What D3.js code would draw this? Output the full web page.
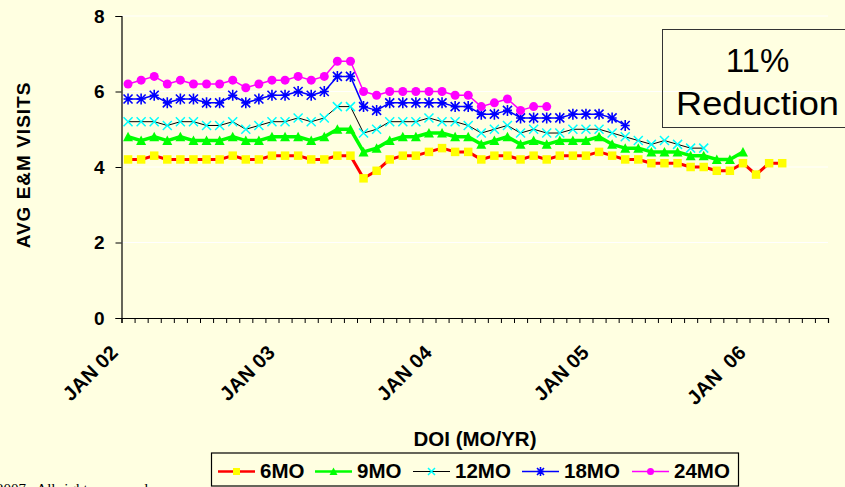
<!DOCTYPE html>
<html><head><meta charset="utf-8">
<script src="https://cdn.jsdelivr.net/npm/d3@7"></script>
<style>
html,body{margin:0;padding:0;background:#FFFFE1;overflow:hidden;}
svg{display:block;font-family:Arial,"Liberation Sans",sans-serif;}
</style></head>
<body><svg id="c" width="845" height="487"></svg>
<script>
const months = ["JAN","FEB","MAR","APR","MAY","JUN","JUL","AUG","SEP","OCT","NOV","DEC"];
const years = ["02","03","04","05","06"];
const categories = [];
years.forEach(y => months.forEach(m => categories.push(m + " " + y)));
categories.splice(54); // JAN 02 .. JUN 06

const tickLabelIdx = [0, 12, 24, 36, 48];
const tickLabels = ["JAN 02", "JAN 03", "JAN 04", "JAN 05", "JAN  06"];
const yTicks = [0, 2, 4, 6, 8];

const s6 = [4.2,4.2,4.3,4.2,4.2,4.2,4.2,4.2,4.3,4.2,4.2,4.3,4.3,4.3,4.2,4.2,4.3,4.3,
            3.7,3.9,4.2,4.3,4.3,4.4,4.5,4.4,4.4,4.2,4.3,4.3,4.2,4.3,4.2,4.3,4.3,4.3,
            4.4,4.3,4.2,4.2,4.1,4.1,4.1,4.0,4.0,3.9,3.9,4.1,3.8,4.1,4.1];
const s9 = [4.8,4.7,4.8,4.7,4.8,4.7,4.7,4.7,4.8,4.7,4.7,4.8,4.8,4.8,4.7,4.8,5.0,5.0,
            4.4,4.5,4.7,4.8,4.8,4.9,4.9,4.8,4.8,4.6,4.7,4.8,4.6,4.7,4.6,4.7,4.7,4.7,
            4.8,4.6,4.5,4.5,4.4,4.4,4.4,4.3,4.3,4.2,4.2,4.4];
const s12 = [5.2,5.2,5.2,5.1,5.2,5.2,5.1,5.1,5.2,5.0,5.1,5.2,5.2,5.3,5.2,5.3,5.6,5.6,
             4.9,5.0,5.2,5.2,5.2,5.3,5.2,5.2,5.1,4.9,5.0,5.1,4.9,5.0,4.9,4.9,5.0,5.0,
             5.0,4.9,4.8,4.7,4.6,4.7,4.6,4.5,4.5];
const s18 = [5.8,5.8,5.9,5.7,5.8,5.8,5.7,5.7,5.9,5.7,5.8,5.9,5.9,6.0,5.9,6.0,6.4,6.4,
             5.6,5.5,5.7,5.7,5.7,5.7,5.7,5.6,5.6,5.4,5.4,5.5,5.3,5.3,5.3,5.3,5.4,5.4,
             5.4,5.3,5.1];
const s24 = [6.2,6.3,6.4,6.2,6.3,6.2,6.2,6.2,6.3,6.1,6.2,6.3,6.3,6.4,6.3,6.4,6.8,6.8,
             6.0,5.9,6.0,6.0,6.0,6.0,6.0,5.9,5.9,5.6,5.7,5.8,5.5,5.6,5.6];

const seriesNames = ["6MO", "9MO", "12MO", "18MO", "24MO"];
const seriesValues = [s6, s9, s12, s18, s24];

const styles = {
  "6MO":  {line:"#FF0000", lw:3,   marker:"square",   mfill:"#FFFF00", mstroke:"#FFFF00"},
  "9MO":  {line:"#00FF00", lw:3.5, marker:"triangle", mfill:"#00FF00", mstroke:"#00FF00"},
  "12MO": {line:"#000000", lw:1,   marker:"x",        mfill:"none",    mstroke:"#00FFFF"},
  "18MO": {line:"#0000FF", lw:1.5, marker:"star",     mfill:"none",    mstroke:"#0000FF"},
  "24MO": {line:"#FF00FF", lw:1.5, marker:"circle",   mfill:"#FF00FF", mstroke:"#FF00FF"}
};

const svg = d3.select("#c");
const L = 121.5, R = 828, T = 16, B = 318;

const x = d3.scaleBand().domain(d3.range(categories.length)).range([L, R]).padding(0);
const xEdge = d3.scaleLinear().domain([0, categories.length]).range([L, R]);
const y = d3.scaleLinear().domain([0, 8]).range([B, T]);

// gridlines
svg.append("g").selectAll("line").data(yTicks.filter(d => d > 0)).join("line")
  .attr("x1", L).attr("x2", R).attr("y1", d => y(d)).attr("y2", d => y(d))
  .attr("stroke", "#FFFFFF").attr("stroke-width", 1.2);

// annotation box
svg.append("rect").attr("x", 662.5).attr("y", 29.5).attr("width", 190).attr("height", 98)
  .attr("fill", "none").attr("stroke", "#333").attr("stroke-width", 1);
svg.append("text").attr("x", 757.5).attr("y", 72).attr("text-anchor", "middle")
  .attr("font-size", 33).attr("fill", "#000").text("11%");
svg.append("text").attr("x", 757.5).attr("y", 115).attr("text-anchor", "middle")
  .attr("font-size", 33).attr("fill", "#000")
  .attr("textLength", 163).attr("lengthAdjust", "spacingAndGlyphs").text("Reduction");

// axes
const yAxis = svg.append("g").attr("transform", `translate(${L},0)`)
  .call(d3.axisLeft(y).tickValues(yTicks).tickSize(6).tickPadding(11).tickFormat(d3.format("d")));
yAxis.select(".domain").attr("stroke", "#000").attr("stroke-width", 1.2);
yAxis.selectAll("text").attr("font-size", 19).attr("font-weight", "bold").attr("font-family", "Arial,'Liberation Sans',sans-serif");

const xAxis = svg.append("g").attr("transform", `translate(0,${B})`)
  .call(d3.axisBottom(xEdge).tickValues(d3.range(categories.length + 1)).tickSize(5).tickFormat(""));
xAxis.select(".domain").attr("stroke", "#000").attr("stroke-width", 1.2);
xAxis.selectAll(".tick line").attr("stroke", "#000");

svg.append("g").selectAll("text").data(tickLabelIdx).join("text")
  .attr("transform", (d) => `translate(${x(d) + x.bandwidth()/2 - 9},${B + 36}) rotate(-45)`)
  .attr("text-anchor", "end").attr("font-size", 20).attr("font-weight", "bold")
  .style("white-space", "pre")
  .text((d, i) => tickLabels[i]);

// axis titles
svg.append("text").attr("transform", `translate(30,165) rotate(-90)`).attr("text-anchor", "middle")
  .attr("font-size", 19).attr("font-weight", "bold").attr("letter-spacing", 1)
  .text("AVG E&M VISITS");
svg.append("text").attr("x", 475).attr("y", 446).attr("text-anchor", "middle")
  .attr("font-size", 20.5).attr("font-weight", "bold").text("DOI (MO/YR)");

// markers
function drawMarker(g, type, st, size) {
  const h = size / 2;
  if (type === "square") {
    g.append("rect").attr("x", -h).attr("y", -h).attr("width", size).attr("height", size).attr("fill", st.mfill);
  } else if (type === "triangle") {
    g.append("path").attr("d", `M0,${-h-0.5}L${h+0.5},${h}L${-h-0.5},${h}Z`).attr("fill", st.mfill);
  } else if (type === "circle") {
    g.append("circle").attr("r", h).attr("fill", st.mfill);
  } else if (type === "x") {
    g.append("path").attr("d", `M${-h},${-h}L${h},${h}M${-h},${h}L${h},${-h}`)
      .attr("stroke", st.mstroke).attr("stroke-width", 1.5).attr("fill", "none");
  } else if (type === "star") {
    g.append("path").attr("d", `M${-h},${-h}L${h},${h}M${-h},${h}L${h},${-h}M0,${-h-1}L0,${h+1}M${-h},0L${h},0`)
      .attr("stroke", st.mstroke).attr("stroke-width", 1.6).attr("fill", "none");
  }
}

const line = d3.line().x((d, i) => x(i) + x.bandwidth()/2).y(d => y(d));
seriesNames.forEach((name, k) => {
  const st = styles[name];
  const vals = seriesValues[k];
  svg.append("path").datum(vals).attr("d", line).attr("fill", "none")
    .attr("stroke", st.line).attr("stroke-width", st.lw).attr("stroke-linejoin", "round");
  const g = svg.append("g");
  vals.forEach((v, i) => {
    const mg = g.append("g").attr("transform", `translate(${x(i) + x.bandwidth()/2},${y(v)})`);
    drawMarker(mg, st.marker, st, name === "6MO" ? 8.5 : 9);
  });
});

// legend
const lg = svg.append("g");
lg.append("rect").attr("x", 211.5).attr("y", 453).attr("width", 527).attr("height", 33)
  .attr("fill", "#FFFFE1").attr("stroke", "#000").attr("stroke-width", 1.2);
const legX = [218, 315, 413, 522, 632];
seriesNames.forEach((name, k) => {
  const st = styles[name];
  const x0 = legX[k], cy = 471.5;
  lg.append("line").attr("x1", x0).attr("x2", x0 + 37).attr("y1", cy).attr("y2", cy)
    .attr("stroke", st.line).attr("stroke-width", Math.min(st.lw, 2.5));
  const mg = lg.append("g").attr("transform", `translate(${x0 + 18.5},${cy})`);
  drawMarker(mg, st.marker, st, 7);
  lg.append("text").attr("x", x0 + 42).attr("y", 477.5).attr("font-size", 20.5).attr("font-weight", "bold").text(name);
});

// footer
svg.append("text").attr("x", 148).attr("y", 494).attr("text-anchor", "end")
  .attr("font-family", "'Liberation Serif','Times New Roman',serif").attr("font-size", 15)
  .text("© 2007 . All rights reserved");
</script></body></html>
